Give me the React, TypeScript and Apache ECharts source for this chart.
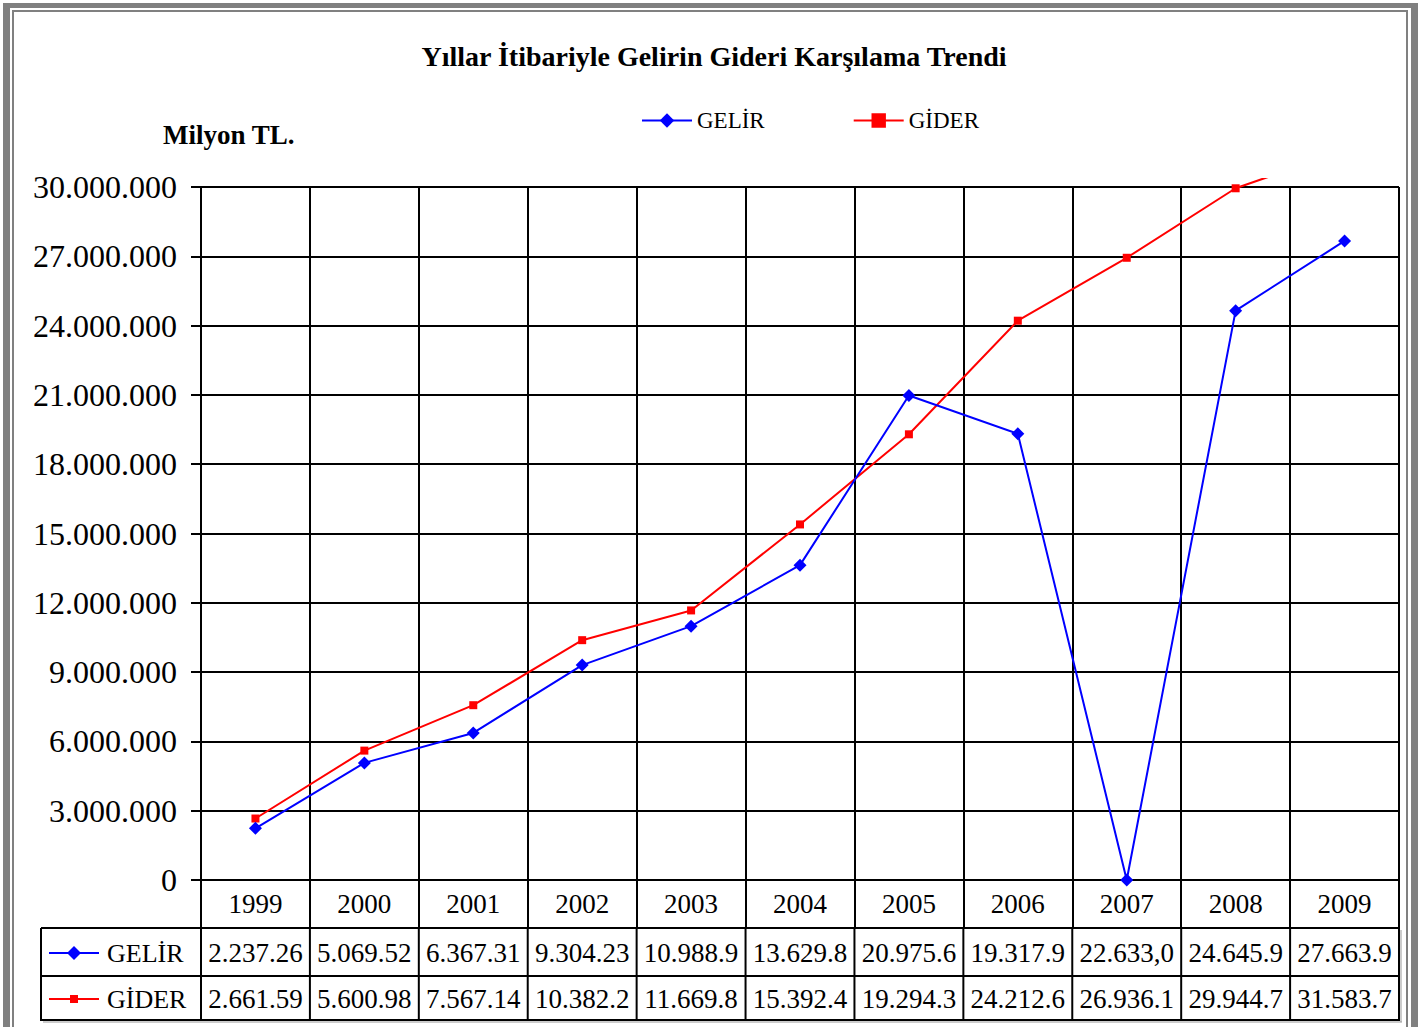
import React, { useEffect, useRef } from "react";
import * as echarts from "echarts";

const years = ["1999", "2000", "2001", "2002", "2003", "2004", "2005", "2006", "2007", "2008", "2009"];
const gelirValues = [2237260, 5069520, 6367310, 9304230, 10988900, 13629800, 20975600, 19317900, 0, 24645900, 27663900];
const giderValues = [2661590, 5600980, 7567140, 10382200, 11669800, 15392400, 19294300, 24212600, 26936100, 29944700, 31583700];
const gelirTable = ["2.237.26", "5.069.52", "6.367.31", "9.304.23", "10.988.9", "13.629.8", "20.975.6", "19.317.9", "22.633,0", "24.645.9", "27.663.9"];
const giderTable = ["2.661.59", "5.600.98", "7.567.14", "10.382.2", "11.669.8", "15.392.4", "19.294.3", "24.212.6", "26.936.1", "29.944.7", "31.583.7"];
const seriesNames = ["GELİR", "GİDER"];
const yMin = 0;
const yMax = 30000000;
const yInterval = 3000000;

const W = 1428;
const H = 1027;
const GRID_L = 201;
const GRID_R = 1399;
const GRID_T = 187;
const GRID_B = 880;
const TABLE_TOP = 928;
const TABLE_MID = 976;
const TABLE_BOT = 1020;
const TABLE_L = 41;
const FONT = "Liberation Serif";
const BLUE = "#0000FF";
const RED = "#FF0000";
const GRAY = "#808080";

const fmt = (v: number) => String(v).replace(/\B(?=(\d{3})+(?!\d))/g, ".");

export default function App() {
  const ref = useRef<HTMLDivElement>(null);

  useEffect(() => {
    if (!ref.current) return;
    const chart = echarts.init(ref.current, undefined, { renderer: "svg" });
    const colW = (GRID_R - GRID_L) / years.length;
    const graphics: any[] = [];

    // frame
    graphics.push(
      { type: "rect", shape: { x: 3, y: 3, width: 7, height: H }, style: { fill: GRAY } },
      { type: "rect", shape: { x: 3, y: 3, width: 1415, height: 5 }, style: { fill: GRAY } },
      { type: "rect", shape: { x: 1411, y: 3, width: 7, height: H }, style: { fill: GRAY } },
      { type: "rect", shape: { x: 12, y: 10, width: 2, height: H }, style: { fill: GRAY } },
      { type: "rect", shape: { x: 12, y: 10, width: 1396, height: 2 }, style: { fill: GRAY } },
      { type: "rect", shape: { x: 1406, y: 10, width: 2, height: H }, style: { fill: GRAY } }
    );

    // cover for line overflow above plot (clipped region like reference)
    graphics.push({
      type: "rect",
      z: 100,
      shape: { x: GRID_L + 9 * colW - 20, y: 140, width: 2 * colW + 25, height: 38 },
      style: { fill: "#ffffff" },
    });

    // table lines
    const hl = (y: number) => ({
      type: "line",
      z: 50,
      shape: { x1: TABLE_L, y1: y, x2: GRID_R + 1, y2: y },
      style: { stroke: "#000", lineWidth: 2 },
    });
    graphics.push(hl(TABLE_TOP), hl(TABLE_MID), hl(TABLE_BOT));
    graphics.push({
      type: "line",
      z: 49,
      shape: { x1: TABLE_L + 2, y1: TABLE_BOT + 2, x2: GRID_R + 3, y2: TABLE_BOT + 2 },
      style: { stroke: "#999", lineWidth: 1 },
    });
    graphics.push({
      type: "line",
      z: 49,
      shape: { x1: GRID_R + 2, y1: TABLE_TOP + 2, x2: GRID_R + 2, y2: TABLE_BOT + 2 },
      style: { stroke: "#999", lineWidth: 1 },
    });
    const vl = (x: number) => ({
      type: "line",
      z: 50,
      shape: { x1: x, y1: TABLE_TOP, x2: x, y2: TABLE_BOT + 1 },
      style: { stroke: "#000", lineWidth: 2 },
    });
    graphics.push(vl(TABLE_L));
    for (let i = 0; i <= years.length; i++) graphics.push(vl(GRID_L + i * colW));

    const row1Y = (TABLE_TOP + TABLE_MID) / 2 + 1;
    const row2Y = (TABLE_MID + TABLE_BOT) / 2 + 1;
    const rows = [
      { y: row1Y, vals: gelirTable },
      { y: row2Y, vals: giderTable },
    ];
    rows.forEach((r) => {
      r.vals.forEach((t, i) => {
        graphics.push({
          type: "text",
          z: 50,
          x: GRID_L + (i + 0.5) * colW,
          y: r.y,
          style: {
            text: t,
            fill: "#000",
            font: `27px "${FONT}"`,
            textAlign: "center",
            textVerticalAlign: "middle",
          },
        });
      });
    });

    // legend keys in table
    const keyX1 = 49;
    const keyX2 = 99;
    const keyC = 74;
    graphics.push(
      { type: "line", z: 50, shape: { x1: keyX1, y1: row1Y, x2: keyX2, y2: row1Y }, style: { stroke: BLUE, lineWidth: 2 } },
      {
        type: "polygon",
        z: 51,
        shape: { points: [[keyC, row1Y - 7], [keyC + 7, row1Y], [keyC, row1Y + 7], [keyC - 7, row1Y]] },
        style: { fill: BLUE },
      },
      { type: "line", z: 50, shape: { x1: keyX1, y1: row2Y, x2: keyX2, y2: row2Y }, style: { stroke: RED, lineWidth: 2 } },
      { type: "rect", z: 51, shape: { x: keyC - 4, y: row2Y - 4, width: 8, height: 8 }, style: { fill: RED } },
      {
        type: "text",
        z: 50,
        x: 107,
        y: row1Y,
        style: { text: seriesNames[0], fill: "#000", font: `26px "${FONT}"`, textAlign: "left", textVerticalAlign: "middle" },
      },
      {
        type: "text",
        z: 50,
        x: 107,
        y: row2Y,
        style: { text: seriesNames[1], fill: "#000", font: `26px "${FONT}"`, textAlign: "left", textVerticalAlign: "middle" },
      }
    );

    const option: any = {
      animation: false,
      backgroundColor: "#ffffff",
      title: [
        {
          text: "Yıllar İtibariyle Gelirin Gideri Karşılama Trendi",
          left: "center",
          top: 37,
          textStyle: { fontFamily: FONT, fontWeight: "bold", fontSize: 28, color: "#000" },
        },
        {
          text: "Milyon TL.",
          left: 158,
          top: 116,
          textStyle: { fontFamily: FONT, fontWeight: "bold", fontSize: 27, color: "#000" },
        },
      ],
      legend: {
        data: seriesNames,
        left: 636,
        top: 104,
        itemWidth: 50,
        itemHeight: 18,
        itemGap: 88,
        textStyle: { fontFamily: FONT, fontSize: 23, color: "#000" },
      },
      grid: {
        left: GRID_L,
        right: W - GRID_R,
        top: GRID_T,
        bottom: H - GRID_B,
      },
      xAxis: {
        type: "category",
        data: years,
        boundaryGap: true,
        axisLine: { show: true, lineStyle: { color: "#000", width: 2 } },
        axisTick: { show: true, length: TABLE_TOP - GRID_B, interval: 0, lineStyle: { color: "#000", width: 2 } },
        splitLine: { show: true, interval: 0, lineStyle: { color: "#000", width: 2 } },
        axisLabel: { color: "#000", fontFamily: FONT, fontSize: 27, margin: 10, interval: 0 },
      },
      yAxis: {
        type: "value",
        min: yMin,
        max: yMax,
        interval: yInterval,
        axisLine: { show: true, lineStyle: { color: "#000", width: 2 } },
        axisTick: { show: true, length: 10, lineStyle: { color: "#000", width: 2 } },
        splitLine: { show: true, lineStyle: { color: "#000", width: 2 } },
        axisLabel: { color: "#000", fontFamily: FONT, fontSize: 32, margin: 24, formatter: (v: number) => fmt(v) },
      },
      series: [
        {
          name: seriesNames[0],
          type: "line",
          data: gelirValues,
          symbol: "diamond",
          symbolSize: 13,
          showAllSymbol: true,
          itemStyle: { color: BLUE },
          lineStyle: { color: BLUE, width: 2 },
          z: 5,
        },
        {
          name: seriesNames[1],
          type: "line",
          data: giderValues,
          symbol: "rect",
          symbolSize: 8,
          showAllSymbol: true,
          clip: false,
          itemStyle: { color: RED },
          lineStyle: { color: RED, width: 2 },
          z: 4,
        },
      ],
      graphic: { elements: graphics },
    };
    chart.setOption(option);
    return () => chart.dispose();
  }, []);

  return (
    <div
      ref={ref}
      style={{ position: "fixed", left: 0, top: 0, width: W, height: H, background: "#fff" }}
    />
  );
}
